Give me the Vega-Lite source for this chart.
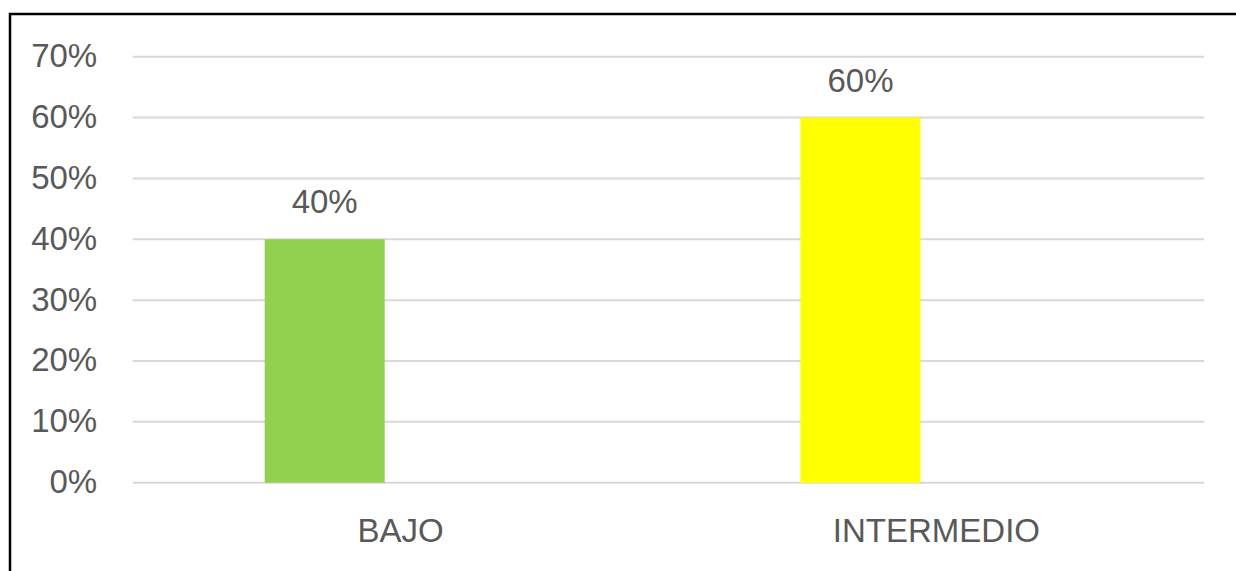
{
  "$schema": "https://vega.github.io/schema/vega-lite/v6.json",
  "autosize": "none",
  "padding": {"left": 10, "top": 14, "right": 0, "bottom": 0},
  "width": 1240,
  "height": 570,
  "background": "white",
  "config": {
    "view": {"stroke": "black", "strokeWidth": 2.5},
    "font": "Liberation Sans"
  },
  "datasets": {
    "niveles": [
      {"nivel": "BAJO", "serie": "s1", "valor": 0.4},
      {"nivel": "INTERMEDIO", "serie": "s1", "valor": 0.6}
    ],
    "grid": [
      {"g": 0}, {"g": 0.1}, {"g": 0.2}, {"g": 0.3},
      {"g": 0.4}, {"g": 0.5}, {"g": 0.6}, {"g": 0.7}
    ]
  },
  "layer": [
    {
      "data": {"name": "grid"},
      "mark": {"type": "rule", "color": "#d9d9d9", "strokeWidth": 2},
      "encoding": {
        "y": {"field": "g", "type": "quantitative"},
        "x": {"datum": "BAJO", "type": "nominal", "bandPosition": 0},
        "x2": {"datum": "INTERMEDIO", "bandPosition": 1}
      }
    },
    {
      "data": {"name": "niveles"},
      "mark": {"type": "bar"},
      "encoding": {
        "x": {
          "field": "nivel",
          "type": "nominal",
          "scale": {
            "type": "band",
            "domain": ["BAJO", "INTERMEDIO"],
            "paddingInner": 0,
            "paddingOuter": 0.15715,
            "align": 0.7286
          },
          "axis": {
            "orient": "bottom",
            "title": null,
            "domain": false,
            "ticks": false,
            "tickSize": 0,
            "grid": false,
            "bandPosition": 0.5,
            "labelAngle": 0,
            "labelAlign": "center",
            "labelPadding": -42.3,
            "labelBaseline": "alphabetic",
            "labelFontSize": 33,
            "labelFont": "Liberation Sans",
            "labelColor": "#595959",
            "labelLimit": 0
          }
        },
        "xOffset": {
          "field": "serie",
          "type": "nominal",
          "scale": {"domain": ["s1", "s2"], "paddingInner": 0.2095, "paddingOuter": 0.8696}
        },
        "y": {
          "field": "valor",
          "type": "quantitative",
          "title": null,
          "scale": {"domain": [-0.1665, 0.7702], "nice": false, "zero": false},
          "axis": {
            "values": [0, 0.1, 0.2, 0.3, 0.4, 0.5, 0.6, 0.7],
            "format": ".0%",
            "domain": false,
            "ticks": false,
            "tickSize": 0,
            "grid": false,
            "labelPadding": -86.7,
            "labelFontSize": 33,
            "labelFont": "Liberation Sans",
            "labelColor": "#595959",
            "labelOverlap": false,
            "labelFlush": false,
            "labelBound": false,
            "labelLimit": 0
          }
        },
        "color": {
          "field": "nivel",
          "type": "nominal",
          "scale": {"domain": ["BAJO", "INTERMEDIO"], "range": ["#92D050", "#FFFF00"]},
          "legend": null
        }
      }
    },
    {
      "data": {"name": "niveles"},
      "mark": {
        "type": "text",
        "baseline": "alphabetic",
        "align": "center",
        "dy": -26,
        "fontSize": 33,
        "font": "Liberation Sans",
        "color": "#595959"
      },
      "encoding": {
        "x": {"field": "nivel", "type": "nominal"},
        "xOffset": {"field": "serie", "type": "nominal"},
        "y": {"field": "valor", "type": "quantitative"},
        "text": {"field": "valor", "type": "quantitative", "format": ".0%"}
      }
    }
  ]
}
